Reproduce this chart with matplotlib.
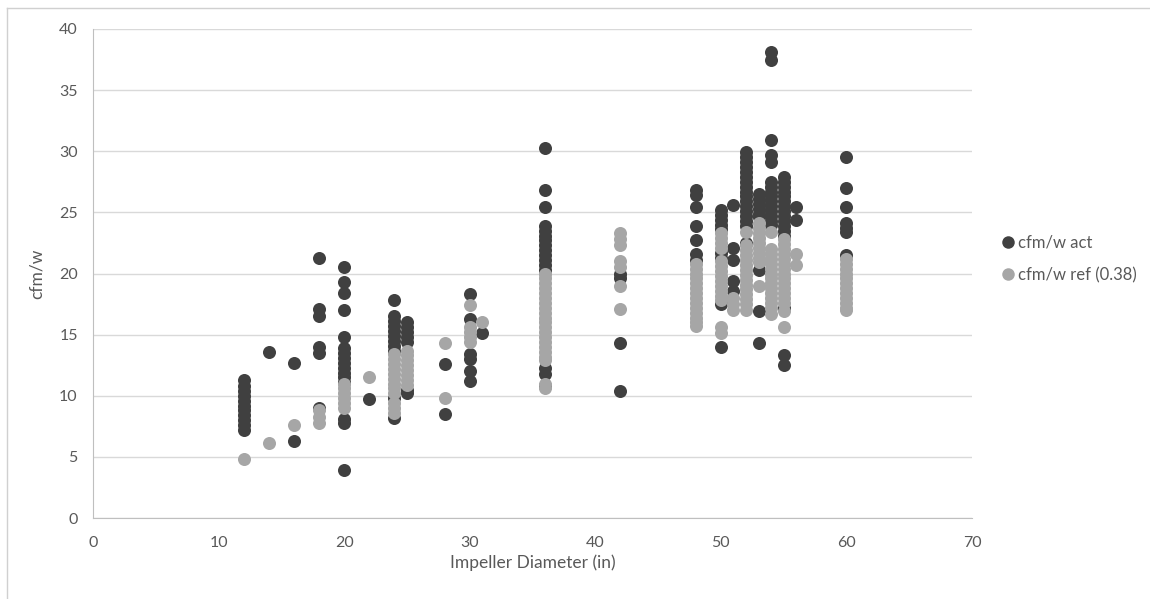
import matplotlib
matplotlib.use("Agg")
import matplotlib.pyplot as plt
from matplotlib.lines import Line2D

# ===================== 数据 =====================
diameters = [12, 14, 16, 18, 20, 22, 24, 25, 28, 30, 31, 36, 42,
             48, 50, 51, 52, 53, 54, 55, 56, 60]

act_12 = [7.2, 7.6, 8.0, 8.4, 8.8, 9.2, 9.6, 10.0, 10.4, 10.8, 11.3]
act_14 = [13.6]
act_16 = [12.7, 6.3]
act_18 = [21.3, 17.1, 16.5, 14.0, 13.5, 9.0]
act_20 = [20.5, 19.3, 18.4, 17.0, 14.8, 13.9, 13.5, 13.1, 12.7, 12.3,
          11.9, 11.5, 11.1, 8.1, 7.8, 3.9]
act_22 = [9.7]
act_24 = [17.8, 16.5, 16.1, 15.7, 15.3, 14.9, 14.5, 14.1, 13.7, 9.8, 8.2]
act_25 = [16.0, 15.6, 15.2, 14.8, 14.4, 10.5, 10.2]
act_28 = [12.6, 8.5]
act_30 = [18.3, 16.3, 13.4, 13.0, 12.0, 11.2]
act_31 = [15.1]
act_36 = [30.3, 26.8, 25.4, 23.9, 23.5, 23.1, 22.7, 22.3, 21.9, 21.5,
          21.1, 20.7, 20.3, 12.3, 11.8, 10.8]
act_42 = [20.0, 19.6, 14.3, 10.4]
act_48 = [26.8, 26.4, 25.4, 23.9, 22.7, 21.6, 21.1]
act_50 = [25.2, 24.8, 24.4, 24.0, 23.6, 21.7, 21.3, 17.5, 14.0]
act_51 = [25.6, 22.1, 21.1, 19.4, 18.6]
act_52 = [29.9, 29.5, 29.1, 28.7, 28.3, 27.9, 27.5, 27.1, 26.7, 26.3,
          25.9, 25.5, 25.1, 24.7, 24.3, 23.9, 22.5]
act_53 = [26.5, 26.1, 25.7, 25.3, 24.9, 24.6, 20.3, 16.9, 14.3]
act_54 = [38.1, 37.5, 30.9, 29.7, 29.1, 27.5, 27.1, 26.7, 26.3, 25.9,
          25.5, 25.1, 24.7, 24.3, 24.0]
act_55 = [27.9, 27.5, 27.1, 26.7, 26.3, 25.9, 25.5, 25.1, 24.7, 24.3,
          23.9, 23.5, 23.1, 17.2, 13.3, 12.5]
act_56 = [25.4, 24.4]
act_60 = [29.5, 27.0, 25.4, 24.1, 23.7, 23.4, 21.5]

ref_12 = [4.8]
ref_14 = [6.1]
ref_16 = [7.6]
ref_18 = [8.8, 8.3, 7.8]
ref_20 = [11.0, 10.6, 10.2, 9.8, 9.4, 9.0]
ref_22 = [11.5]
ref_24 = [13.4, 13.0, 12.6, 12.2, 11.8, 11.4, 11.0, 10.6, 10.2, 9.4, 9.0, 8.6]
ref_25 = [13.7, 13.3, 12.9, 12.5, 12.1, 11.7, 11.3, 10.9]
ref_28 = [14.3, 9.8]
ref_30 = [17.4, 15.6, 15.2, 14.8, 14.4]
ref_31 = [16.0]
ref_36 = [20.0, 19.6, 19.2, 18.8, 18.4, 18.0, 17.6, 17.2, 16.8, 16.4,
          16.0, 15.6, 15.2, 14.8, 14.4, 14.0, 13.6, 13.2, 12.9, 11.0, 10.6]
ref_42 = [23.3, 22.8, 22.3, 21.0, 20.5, 19.0, 17.1]
ref_48 = [20.8, 20.4, 20.0, 19.6, 19.2, 18.8, 18.4, 18.0, 17.6, 17.2,
          16.8, 16.4, 16.0, 15.7]
ref_50 = [23.3, 22.9, 22.5, 22.1, 21.0, 20.6, 20.2, 19.8, 19.4, 19.0,
          18.6, 18.2, 17.8, 15.6, 15.1]
ref_51 = [18.0, 17.5, 17.0]
ref_52 = [23.4, 22.3, 21.9, 21.5, 21.1, 20.7, 20.3, 19.9, 19.5, 19.1,
          18.7, 18.3, 17.9, 17.5, 17.0]
ref_53 = [24.1, 23.7, 23.3, 22.9, 22.5, 22.1, 21.7, 21.3, 20.9, 19.0]
ref_54 = [23.4, 22.0, 21.6, 21.2, 20.8, 20.4, 20.0, 19.6, 19.2, 18.8,
          18.4, 18.0, 17.6, 17.2, 16.7]
ref_55 = [22.8, 22.4, 22.0, 21.6, 21.2, 20.8, 20.4, 20.0, 19.6, 19.2,
          18.8, 18.4, 18.0, 17.6, 16.9, 15.6]
ref_56 = [21.6, 20.7]
ref_60 = [21.2, 20.8, 20.4, 20.0, 19.6, 19.2, 18.8, 18.4, 18.0, 17.6,
          17.2, 17.0]

act_cols = [act_12, act_14, act_16, act_18, act_20, act_22, act_24, act_25,
            act_28, act_30, act_31, act_36, act_42, act_48, act_50, act_51,
            act_52, act_53, act_54, act_55, act_56, act_60]
ref_cols = [ref_12, ref_14, ref_16, ref_18, ref_20, ref_22, ref_24, ref_25,
            ref_28, ref_30, ref_31, ref_36, ref_42, ref_48, ref_50, ref_51,
            ref_52, ref_53, ref_54, ref_55, ref_56, ref_60]

y_ticks = [0, 5, 10, 15, 20, 25, 30, 35, 40]
x_ticks = [0, 10, 20, 30, 40, 50, 60, 70]


def flatten(cols):
    xs, ys = [], []
    for d, vals in zip(diameters, cols):
        xs += [d] * len(vals)
        ys += vals
    return xs, ys


# ===================== 绘图 =====================
plt.rcParams['font.family'] = ['Lato', 'DejaVu Sans']
TXT = '#595959'
DARK = '#404040'
LIGHT = '#a6a6a6'

fig = plt.figure(figsize=(11.5, 5.99), dpi=100)
ax = fig.add_axes([93 / 1150, 1 - 518 / 599, (972 - 93) / 1150, (518 - 29) / 599])

ax_x, ax_y = flatten(act_cols)
rf_x, rf_y = flatten(ref_cols)
ax.scatter(ax_x, ax_y, s=88, color=DARK, linewidths=0, zorder=3)
ax.scatter(rf_x, rf_y, s=88, color=LIGHT, linewidths=0, zorder=4)

ax.set_xlim(0, 70)
ax.set_ylim(0, 40)
ax.set_xticks(x_ticks)
ax.set_yticks(y_ticks)
ax.tick_params(length=0, colors=TXT, labelsize=11.5)
ax.tick_params(axis='x', pad=13)
ax.tick_params(axis='y', pad=11)
ax.grid(axis='y', color='#d9d9d9', lw=1)
ax.set_axisbelow(True)
for s in ['top', 'right']:
    ax.spines[s].set_visible(False)
for s in ['left', 'bottom']:
    ax.spines[s].set_color('#bfbfbf')
ax.set_xlabel('Impeller Diameter (in)', color=TXT, fontsize=12.5, labelpad=3)
ax.set_ylabel('cfm/w', color=TXT, fontsize=12.5, labelpad=10)

handles = [Line2D([], [], ls='', marker='o', ms=9, color=DARK, mew=0),
           Line2D([], [], ls='', marker='o', ms=9, color=LIGHT, mew=0)]
ax.legend(handles, ['cfm/w act', 'cfm/w ref (0.38)'], loc='center left',
          bbox_to_anchor=(1.013, 0.53), frameon=False, handletextpad=0.05,
          labelspacing=1.0, fontsize=12, labelcolor=TXT, handlelength=1.1)

# 外框（截图只保留了左边和上边）
fig.add_artist(Line2D([7 / 1150, 7 / 1150], [0, 1 - 8 / 599], color='#d0d0d0', lw=1))
fig.add_artist(Line2D([7 / 1150, 1], [1 - 8 / 599, 1 - 8 / 599], color='#d0d0d0', lw=1))

fig.savefig('out.png', dpi=100)
